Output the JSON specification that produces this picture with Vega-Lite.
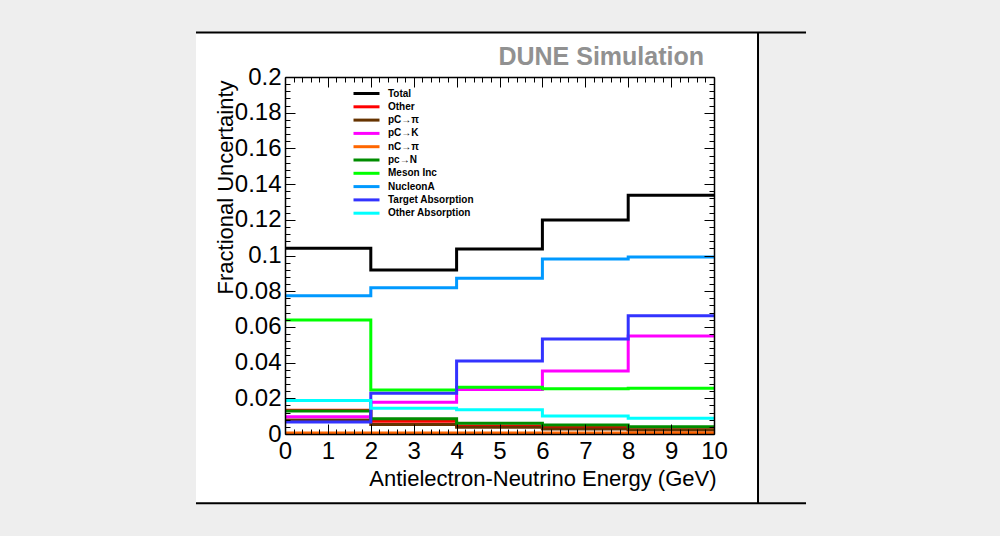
{
  "$schema": "https://vega.github.io/schema/vega-lite/v6.json",
  "autosize": {"type": "none"},
  "width": 429,
  "height": 357,
  "padding": {"left": 285, "top": 77, "right": 286, "bottom": 102},
  "background": "#eeeeee",
  "config": {
    "view": {"stroke": null},
    "font": "Liberation Sans",
    "axis": {"zindex": 1}
  },
  "title": {
    "text": "DUNE Simulation",
    "anchor": "end",
    "frame": "group",
    "font": "Liberation Sans",
    "fontSize": 25,
    "fontWeight": "bold",
    "color": "#919191",
    "baseline": "alphabetic",
    "offset": -59,
    "dx": -10
  },
  "datasets": {
    "one": [{"k": 1}],
    "hist": [
      {"cat": "Total", "e": 0, "u": 0.1040}, {"cat": "Total", "e": 2, "u": 0.0919}, {"cat": "Total", "e": 4, "u": 0.1036}, {"cat": "Total", "e": 6, "u": 0.1199}, {"cat": "Total", "e": 8, "u": 0.1337}, {"cat": "Total", "e": 10, "u": 0.1337},
      {"cat": "Other", "e": 0, "u": 0.0133}, {"cat": "Other", "e": 2, "u": 0.0071}, {"cat": "Other", "e": 4, "u": 0.0045}, {"cat": "Other", "e": 6, "u": 0.0040}, {"cat": "Other", "e": 8, "u": 0.0024}, {"cat": "Other", "e": 10, "u": 0.0024},
      {"cat": "pC→π", "e": 0, "u": 0.0079}, {"cat": "pC→π", "e": 2, "u": 0.0053}, {"cat": "pC→π", "e": 4, "u": 0.0038}, {"cat": "pC→π", "e": 6, "u": 0.0028}, {"cat": "pC→π", "e": 8, "u": 0.0022}, {"cat": "pC→π", "e": 10, "u": 0.0022},
      {"cat": "pC→K", "e": 0, "u": 0.0097}, {"cat": "pC→K", "e": 2, "u": 0.0178}, {"cat": "pC→K", "e": 4, "u": 0.0250}, {"cat": "pC→K", "e": 6, "u": 0.0353}, {"cat": "pC→K", "e": 8, "u": 0.0549}, {"cat": "pC→K", "e": 10, "u": 0.0549},
      {"cat": "nC→π", "e": 0, "u": 0.0005}, {"cat": "nC→π", "e": 2, "u": 0.0005}, {"cat": "nC→π", "e": 4, "u": 0.0005}, {"cat": "nC→π", "e": 6, "u": 0.0006}, {"cat": "nC→π", "e": 8, "u": 0.0006}, {"cat": "nC→π", "e": 10, "u": 0.0006},
      {"cat": "pc→N", "e": 0, "u": 0.0129}, {"cat": "pc→N", "e": 2, "u": 0.0086}, {"cat": "pc→N", "e": 4, "u": 0.0060}, {"cat": "pc→N", "e": 6, "u": 0.0050}, {"cat": "pc→N", "e": 8, "u": 0.0041}, {"cat": "pc→N", "e": 10, "u": 0.0041},
      {"cat": "Meson Inc", "e": 0, "u": 0.0639}, {"cat": "Meson Inc", "e": 2, "u": 0.0246}, {"cat": "Meson Inc", "e": 4, "u": 0.0262}, {"cat": "Meson Inc", "e": 6, "u": 0.0254}, {"cat": "Meson Inc", "e": 8, "u": 0.0256}, {"cat": "Meson Inc", "e": 10, "u": 0.0256},
      {"cat": "NucleonA", "e": 0, "u": 0.0775}, {"cat": "NucleonA", "e": 2, "u": 0.0820}, {"cat": "NucleonA", "e": 4, "u": 0.0872}, {"cat": "NucleonA", "e": 6, "u": 0.0980}, {"cat": "NucleonA", "e": 8, "u": 0.0992}, {"cat": "NucleonA", "e": 10, "u": 0.0992},
      {"cat": "Target Absorption", "e": 0, "u": 0.0067}, {"cat": "Target Absorption", "e": 2, "u": 0.0228}, {"cat": "Target Absorption", "e": 4, "u": 0.0409}, {"cat": "Target Absorption", "e": 6, "u": 0.0532}, {"cat": "Target Absorption", "e": 8, "u": 0.0663}, {"cat": "Target Absorption", "e": 10, "u": 0.0663},
      {"cat": "Other Absorption", "e": 0, "u": 0.0187}, {"cat": "Other Absorption", "e": 2, "u": 0.0144}, {"cat": "Other Absorption", "e": 4, "u": 0.0136}, {"cat": "Other Absorption", "e": 6, "u": 0.0101}, {"cat": "Other Absorption", "e": 8, "u": 0.0088}, {"cat": "Other Absorption", "e": 10, "u": 0.0088}
    ]
  },
  "resolve": {"axis": {"x": "independent", "y": "independent"}},
  "layer": [
    {
      "data": {"name": "one"},
      "mark": {"type": "rect", "fill": "white"},
      "encoding": {
        "x": {"datum": -2.075, "type": "quantitative", "scale": {"domain": [0, 10], "nice": false, "zero": false},
          "axis": {
            "orient": "top", "labels": false, "title": null, "grid": false, "zindex": 1,
            "values": [0,0.2,0.4,0.6,0.8,1,1.2,1.4,1.6,1.8,2,2.2,2.4,2.6,2.8,3,3.2,3.4,3.6,3.8,4,4.2,4.4,4.6,4.8,5,5.2,5.4,5.6,5.8,6,6.2,6.4,6.6,6.8,7,7.2,7.4,7.6,7.8,8,8.2,8.4,8.6,8.8,9,9.2,9.4,9.6,9.8,10],
            "tickSize": {"condition": {"test": "abs(datum.value - round(datum.value)) < 1e-6", "value": -10}, "value": -5},
            "tickColor": "black", "tickWidth": 1, "domainColor": "black", "domainWidth": 1.5
          }},
        "x2": {"datum": 11.026},
        "y": {"datum": 0.2250, "type": "quantitative", "scale": {"domain": [0, 0.2], "nice": false, "zero": false},
          "axis": {
            "orient": "right", "labels": false, "title": null, "grid": false, "zindex": 1,
            "values": [0,0.004,0.008,0.012,0.016,0.02,0.024,0.028,0.032,0.036,0.04,0.044,0.048,0.052,0.056,0.06,0.064,0.068,0.072,0.076,0.08,0.084,0.088,0.092,0.096,0.1,0.104,0.108,0.112,0.116,0.12,0.124,0.128,0.132,0.136,0.14,0.144,0.148,0.152,0.156,0.16,0.164,0.168,0.172,0.176,0.18,0.184,0.188,0.192,0.196,0.2],
            "tickSize": {"condition": {"test": "abs(datum.value*50 - round(datum.value*50)) < 1e-6", "value": -10}, "value": -5},
            "tickColor": "black", "tickWidth": 1, "domainColor": "black", "domainWidth": 1.5
          }},
        "y2": {"datum": -0.0388}
      }
    },
    {
      "data": {"name": "one"},
      "mark": {"type": "rule", "color": "black", "strokeWidth": 2},
      "encoding": {
        "x": {"datum": -2.075, "type": "quantitative", "axis": null},
        "x2": {"datum": 12.145},
        "y": {"datum": 0.2250, "type": "quantitative", "axis": null}
      }
    },
    {
      "data": {"name": "one"},
      "mark": {"type": "rule", "color": "black", "strokeWidth": 2},
      "encoding": {
        "x": {"datum": -2.075, "type": "quantitative", "axis": null},
        "x2": {"datum": 12.145},
        "y": {"datum": -0.0388, "type": "quantitative", "axis": null}
      }
    },
    {
      "data": {"name": "one"},
      "mark": {"type": "rule", "color": "black", "strokeWidth": 2},
      "encoding": {
        "x": {"datum": 11.026, "type": "quantitative", "axis": null},
        "y": {"datum": 0.2250, "type": "quantitative", "axis": null},
        "y2": {"datum": -0.0388}
      }
    },
    {
      "data": {"name": "hist"},
      "mark": {"type": "line", "interpolate": "step-after", "strokeWidth": 3},
      "encoding": {
        "x": {
          "field": "e", "type": "quantitative",
          "scale": {"domain": [0, 10], "nice": false, "zero": false},
          "axis": {
            "orient": "bottom", "grid": false, "zindex": 1,
            "values": [0,0.2,0.4,0.6,0.8,1,1.2,1.4,1.6,1.8,2,2.2,2.4,2.6,2.8,3,3.2,3.4,3.6,3.8,4,4.2,4.4,4.6,4.8,5,5.2,5.4,5.6,5.8,6,6.2,6.4,6.6,6.8,7,7.2,7.4,7.6,7.8,8,8.2,8.4,8.6,8.8,9,9.2,9.4,9.6,9.8,10],
            "labelExpr": "abs(datum.value - round(datum.value)) < 1e-6 ? '' + round(datum.value) : ''",
            "tickSize": {"condition": {"test": "abs(datum.value - round(datum.value)) < 1e-6", "value": -10}, "value": -5},
            "tickColor": "black", "tickWidth": 1, "domainColor": "black", "domainWidth": 1.5,
            "labelFont": "Liberation Sans", "labelFontSize": 24, "labelColor": "black",
            "labelBaseline": "top", "labelPadding": 15, "labelFlush": false, "labelOverlap": false,
            "title": "Antielectron-Neutrino Energy (GeV)",
            "titleFont": "Liberation Sans", "titleFontSize": 22, "titleFontWeight": "normal", "titleColor": "black",
            "titleX": 431, "titleY": 51, "titleAlign": "right", "titleBaseline": "alphabetic", "titleAnchor": null
          }
        },
        "y": {
          "field": "u", "type": "quantitative",
          "scale": {"domain": [0, 0.2], "nice": false, "zero": false},
          "axis": {
            "orient": "left", "grid": false, "zindex": 1,
            "values": [0,0.004,0.008,0.012,0.016,0.02,0.024,0.028,0.032,0.036,0.04,0.044,0.048,0.052,0.056,0.06,0.064,0.068,0.072,0.076,0.08,0.084,0.088,0.092,0.096,0.1,0.104,0.108,0.112,0.116,0.12,0.124,0.128,0.132,0.136,0.14,0.144,0.148,0.152,0.156,0.16,0.164,0.168,0.172,0.176,0.18,0.184,0.188,0.192,0.196,0.2],
            "labelExpr": "abs(datum.value*50 - round(datum.value*50)) < 1e-6 ? '' + (round(datum.value*50)/50) : ''",
            "tickSize": {"condition": {"test": "abs(datum.value*50 - round(datum.value*50)) < 1e-6", "value": -10}, "value": -5},
            "tickColor": "black", "tickWidth": 1, "domainColor": "black", "domainWidth": 1.5,
            "labelFont": "Liberation Sans", "labelFontSize": 24, "labelColor": "black",
            "labelBaseline": "middle", "labelPadding": 14, "labelFlush": false, "labelOverlap": false,
            "title": "Fractional Uncertainty",
            "titleFont": "Liberation Sans", "titleFontSize": 22, "titleFontWeight": "normal", "titleColor": "black",
            "titleX": -53, "titleY": 3, "titleAlign": "right", "titleBaseline": "alphabetic", "titleAngle": -90, "titleAnchor": null
          }
        },
        "color": {
          "field": "cat", "type": "nominal", "sort": null,
          "scale": {
            "domain": ["Total", "Other", "pC→π", "pC→K", "nC→π", "pc→N", "Meson Inc", "NucleonA", "Target Absorption", "Other Absorption"],
            "range": ["#000000", "#ff0000", "#663300", "#ff00ff", "#ff6600", "#008c00", "#00ff00", "#0099ff", "#3333ff", "#00ffff"]
          },
          "legend": {
            "orient": "none", "legendX": 75, "legendY": 10, "title": null,
            "symbolType": "M-2.6,0H2.6", "symbolSize": 100, "symbolStrokeWidth": 3,
            "labelFont": "Liberation Sans", "labelFontSize": 10, "labelFontWeight": "bold", "labelColor": "black",
            "labelOffset": 15, "rowPadding": 0.3, "padding": 0
          }
        }
      }
    }
  ]
}
